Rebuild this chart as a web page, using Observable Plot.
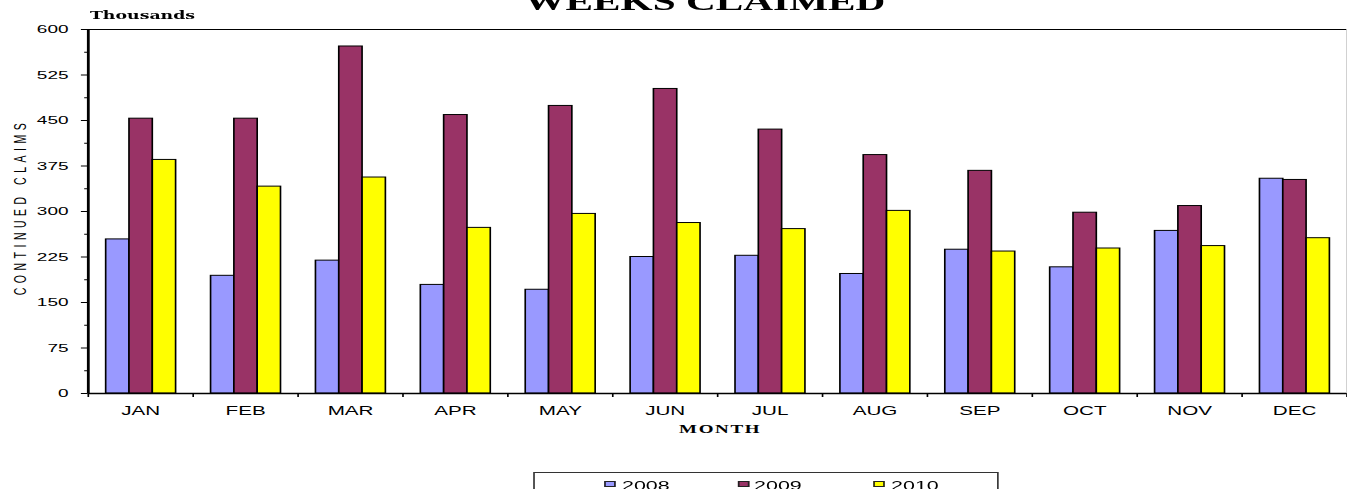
<!DOCTYPE html>
<html>
<head>
<meta charset="utf-8">
<script src="https://cdn.jsdelivr.net/npm/d3@7"></script>
<script src="https://cdn.jsdelivr.net/npm/@observablehq/plot@0.6"></script>
<style>
  html, body { margin: 0; padding: 0; background: #fff; width: 1347px; height: 489px; overflow: hidden; }
  #wrap { position: absolute; left: 0; top: 0; width: 816px; height: 489px; transform-origin: 0 0; transform: scaleX(1.650735); }
  #chart { position: absolute; left: 0; top: 0; }
  .t { position: absolute; white-space: nowrap; line-height: 1; color: #000; }
  #title { font-family: "Liberation Serif", "Times New Roman", serif; font-weight: bold; font-size: 25px; top: -11.4px; left: 227px; width: 400px; text-align: center; }
  #units { font-family: "DejaVu Serif", serif; font-weight: bold; font-size: 10.5px; top: 10.4px; left: 54.5px; }
  #ylab { font-family: "Liberation Sans", Arial, sans-serif; font-size: 10.5px; letter-spacing: 4.5px; width: 240px; text-align: center; left: -108.5px; top: 203.5px; transform: rotate(-90deg); padding-left: 4.5px; box-sizing: border-box; }
  #xlab { font-family: "Liberation Serif", "Times New Roman", serif; font-weight: bold; font-size: 11.5px; letter-spacing: 1px; width: 200px; text-align: center; left: 335.75px; top: 423.7px; padding-left: 1px; box-sizing: border-box; }
  #legend { position: absolute; left: 323px; top: 472px; width: 282px; height: 40px; border: 1px solid #333; box-sizing: border-box; background: #fff; }
  .sw { position: absolute; width: 7px; height: 6px; border: 1px solid #222; box-sizing: border-box; top: 8px; }
  .lt { position: absolute; font-family: "Liberation Sans", Arial, sans-serif; font-size: 13px; line-height: 1; top: 6.3px; white-space: nowrap; }
</style>
</head>
<body>
<div id="wrap">
  <div id="chart"></div>
  <div class="t" id="title">WEEKS CLAIMED</div>
  <div class="t" id="units">Thousands</div>
  <div class="t" id="ylab">CONTINUED CLAIMS</div>
  <div class="t" id="xlab">MONTH</div>
  <div id="legend"></div>
</div>
<script>
const months = ["JAN", "FEB", "MAR", "APR", "MAY", "JUN", "JUL", "AUG", "SEP", "OCT", "NOV", "DEC"];
const years = ["2008", "2009", "2010"];
const v2008 = [254, 194, 219, 179, 171, 225, 227, 197, 237, 208, 268, 354];
const v2009 = [453, 453, 572, 459, 474, 502, 435, 393, 367, 298, 309, 352];
const v2010 = [385, 341, 356, 273, 296, 281, 271, 301, 234, 239, 243, 256];
const colors = ["#9999FF", "#993366", "#FFFF00"];
const yTicks = [0, 75, 150, 225, 300, 375, 450, 525, 600];

const series = [v2008, v2009, v2010];
const rows = months.flatMap((m, mi) => years.map((yr, si) => ({month: m, mi, year: yr, si, value: series[si][mi]})));
const minorTicks = yTicks.slice(1).map((t, i) => (t + yTicks[i]) / 2);

const chart = Plot.plot({
  width: 816,
  height: 450,
  marginLeft: 53,
  marginRight: 0.5,
  marginTop: 29,
  marginBottom: 57,
  style: {fontFamily: "'Liberation Sans', Arial, sans-serif", background: "white", color: "black", overflow: "visible"},
  x: {type: "linear", domain: [0, 12]},
  y: {domain: [0, 600]},
  color: {domain: years, range: colors},
  marks: [
    Plot.rect(rows, {
      x1: d => d.mi + (0.78 + d.si) / 4.5,
      x2: d => d.mi + (1.78 + d.si) / 4.5,
      y1: 0,
      y2: "value",
      fill: "year",
      stroke: "black",
      strokeWidth: 1
    }),
    Plot.axisY({ticks: yTicks, tickSize: 4, tickPadding: 8, fontSize: 11.5, label: null}),
    Plot.axisY({ticks: minorTicks, tickSize: 2, tickFormat: () => "", label: null}),
    Plot.axisX({ticks: months.map((_, i) => i + 0.5), tickFormat: t => months[Math.floor(t)], tickSize: 0, tickPadding: 13, fontSize: 12.5, label: null}),
    Plot.axisX({ticks: d3.range(13), tickSize: 4, tickFormat: () => "", label: null}),
    Plot.ruleX([12], {y1: 0, y2: 600, stroke: "#c8c8c8"}),
    Plot.ruleY([600], {strokeWidth: 1}),
    Plot.ruleY([0], {strokeWidth: 1.5}),
    Plot.ruleX([0], {y1: 0, y2: 600, strokeWidth: 1.7})
  ]
});
document.getElementById("chart").appendChild(chart);

const legend = document.getElementById("legend");
const swX = [42, 123, 205];
const txX = [52.8, 132.8, 215.8];
years.forEach((yr, i) => {
  const sw = document.createElement("div");
  sw.className = "sw";
  sw.style.left = swX[i] + "px";
  sw.style.background = colors[i];
  legend.appendChild(sw);
  const tx = document.createElement("div");
  tx.className = "lt";
  tx.style.left = txX[i] + "px";
  tx.textContent = yr;
  legend.appendChild(tx);
});
</script>
</body>
</html>
